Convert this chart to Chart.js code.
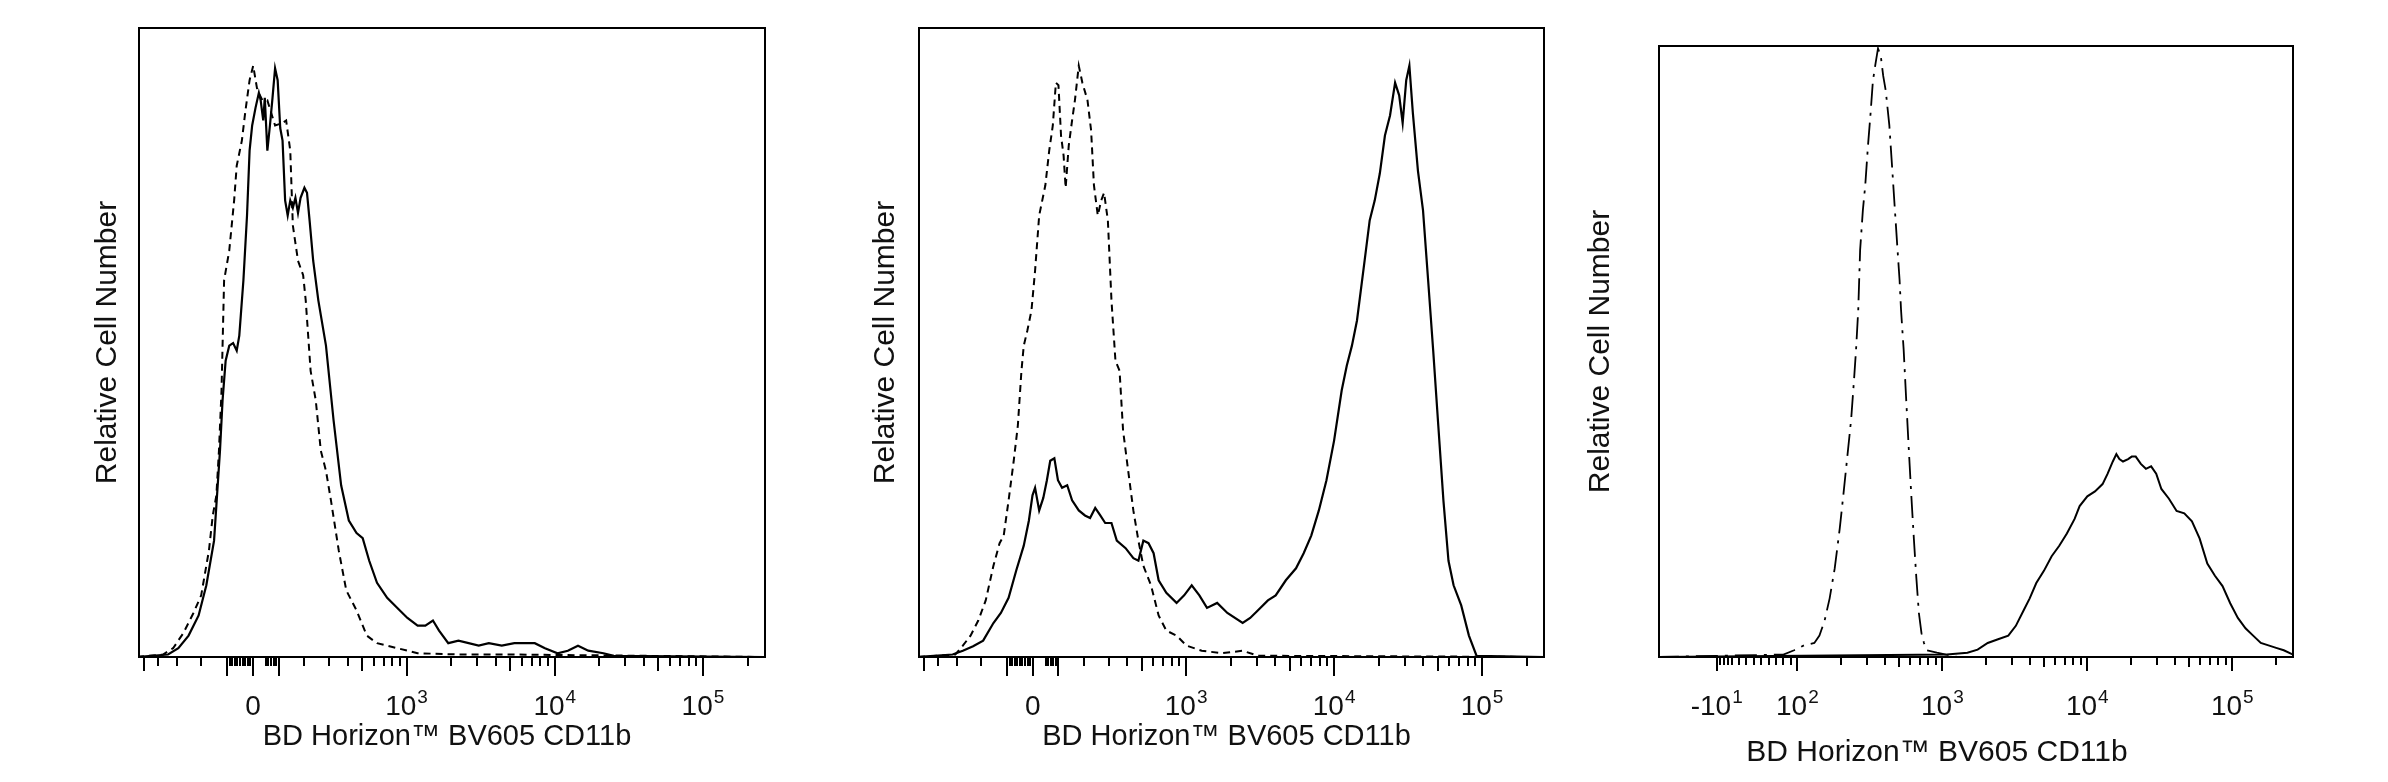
<!DOCTYPE html>
<html lang="en">
<head>
<meta charset="UTF-8">
<title>BD Horizon BV605 CD11b histograms</title>
<script src="https://cdn.jsdelivr.net/npm/chart.js"></script>
<style>
  body { margin: 0; background: #fff; width: 2388px; height: 782px; position: relative; overflow: hidden; }
  canvas { position: absolute; top: 0; }
</style>
</head>
<body>
<canvas id="panel1" width="795" height="782" style="left:0px"></canvas>
<canvas id="panel2" width="790" height="782" style="left:795px"></canvas>
<canvas id="panel3" width="808" height="782" style="left:1580px"></canvas>
<script>
// ---- data (x = fluorescence intensity, y = % of max frame height) ----
const xTitle = 'BD Horizon™ BV605 CD11b';
const yTitle = 'Relative Cell Number';

// panel 1
const p1SolidX = [-557, -344, -293, -250, -211, -181, -151, -142, -128, -118,
  -106, -92, -77, -63, -53, -37, -23, -13, -3, 10,
  23, 30, 40, 46, 56, 66, 76, 86, 96, 106,
  115, 125, 135, 145, 155, 165, 175, 185, 200, 210,
  220, 234, 254, 286, 322, 362, 408, 460, 506, 560,
  632, 740, 867, 1014, 1188, 1339, 1507, 1657, 1912, 2240,
  2625, 3070, 3590, 4390, 5340, 7330, 8590, 10440, 12260, 14350,
  16830, 21300, 25040, 262144];
const p1SolidY = [0, 0.4, 1.4, 3.4, 6.6, 11.4, 18.5, 24.1, 32.8, 40.8,
  47.1, 49.5, 49.9, 48.7, 51.1, 59.9, 70.2, 80.5, 84.5, 87.3,
  89.7, 88.5, 85.3, 88.9, 80.5, 84.5, 88.9, 93.6, 91.7, 84.1,
  82.1, 72.6, 70.2, 72.6, 71.4, 73.0, 70.6, 73.0, 74.6, 73.8,
  69.4, 63.0, 56.7, 49.5, 37.6, 27.3, 21.7, 19.7, 18.9, 15.3,
  11.8, 9.4, 7.8, 6.2, 5.0, 5.0, 5.8, 4.2, 2.2, 2.6,
  2.2, 1.8, 2.2, 1.8, 2.2, 2.2, 1.4, 0.6, 1.0, 1.8,
  1.0, 0.6, 0.2, 0];
const p1DashX = [-557, -372, -318, -271, -231, -201, -171, -156, -142, -132,
  -122, -112, -92, -73, -63, -43, -29, -13, 1, 17,
  37, 56, 86, 115, 129, 145, 155, 175, 195, 205,
  224, 244, 264, 286, 309, 349, 392, 460, 539, 632,
  867, 1188, 2240, 4940, 262144];
const p1DashY = [0, 0.4, 1.4, 3.8, 7.0, 9.8, 16.9, 22.5, 25.7, 32.8,
  42.4, 59.9, 64.6, 72.6, 78.1, 82.1, 86.9, 91.7, 94.0, 90.1,
  88.5, 88.5, 84.5, 84.9, 85.3, 80.5, 68.6, 63.0, 60.7, 56.7,
  45.5, 40.8, 32.8, 29.6, 24.9, 16.9, 10.6, 7.4, 3.4, 2.2,
  1.4, 0.6, 0.4, 0.4, 0];

// panel 2
const p2SolidX = [-547, -320, -273, -232, -193, -153, -124, -94, -64, -35,
  -15, -1, 9, 25, 41, 55, 68, 84, 98, 114,
  134, 153, 179, 203, 223, 243, 263, 284, 313, 340,
  390, 440, 476, 514, 557, 603, 652, 735, 862, 970,
  1091, 1229, 1384, 1621, 1900, 2410, 2710, 3050, 3570, 4030,
  4720, 5530, 6230, 7010, 7890, 8880, 10000, 11260, 12180, 13200,
  14280, 16080, 17400, 18830, 20380, 22060, 23880, 25840, 27530, 29060,
  30730, 32270, 34060, 36870, 39900, 43200, 46750, 50600, 54800, 59300,
  64200, 72300, 81500, 91700, 262144];
const p2SolidY = [0, 0.4, 1.0, 1.7, 2.6, 5.4, 7.0, 9.4, 13.8, 17.7,
  21.7, 25.7, 26.9, 23.3, 25.3, 28.1, 31.2, 31.6, 28.1, 26.9,
  27.3, 24.9, 23.3, 22.5, 22.1, 23.7, 22.5, 21.3, 21.3, 18.5,
  17.3, 15.7, 15.3, 18.5, 18.1, 16.5, 12.2, 10.2, 8.6, 9.8,
  11.4, 9.8, 7.8, 8.6, 7.0, 5.4, 6.2, 7.4, 9.0, 9.8,
  12.2, 14.1, 16.5, 19.3, 23.3, 28.1, 34.4, 42.4, 46.3, 49.5,
  53.5, 63.0, 69.4, 72.6, 76.9, 82.9, 86.1, 91.3, 89.3, 84.9,
  91.7, 94.0, 86.5, 77.3, 71.0, 59.9, 48.7, 36.8, 24.9, 15.3,
  11.4, 8.2, 3.4, 0.2, 0];
const p2DashX = [-547, -307, -273, -242, -212, -183, -153, -129, -113, -94,
  -74, -58, -44, -35, -21, -5, 9, 25, 49, 64,
  78, 90, 100, 110, 120, 128, 140, 153, 164, 179,
  193, 213, 227, 238, 253, 267, 279, 296, 313, 333,
  355, 375, 406, 440, 476, 514, 579, 652, 735, 862,
  1007, 1275, 1755, 2410, 3050, 262144];
const p2DashY = [0, 0.4, 1.8, 3.4, 5.8, 9.0, 14.5, 18.1, 19.3, 24.9,
  31.2, 36.8, 45.5, 49.5, 51.9, 55.1, 61.4, 70.2, 75.0, 80.5,
  84.5, 91.3, 90.9, 82.9, 79.7, 74.6, 81.3, 85.3, 88.5, 94.0,
  91.3, 88.5, 83.7, 75.0, 70.2, 72.6, 73.8, 69.4, 56.7, 47.1,
  45.5, 36.0, 29.6, 23.3, 18.5, 14.5, 11.4, 6.6, 4.2, 3.4,
  1.8, 1.0, 0.6, 1.0, 0.2, 0];

// panel 3
const p3DashDotX = [-91, 80, 95, 111, 131, 142, 154, 167, 181, 196,
  208, 222, 235, 246, 254, 263, 271, 283, 294, 307,
  319, 332, 346, 360, 376, 391, 407, 431, 452, 471,
  491, 507, 519, 541, 563, 587, 610, 636, 662, 689,
  718, 747, 779, 916, 1268, 262144];
const p3DashDotY = [0, 0.4, 1.1, 1.9, 2.3, 3.5, 5.9, 9.6, 14.5, 21.0,
  26.7, 33.2, 38.9, 45.4, 50.3, 56.8, 66.6, 73.1, 77.2, 83.7,
  88.6, 94.3, 97.1, 99.6, 98.4, 95.1, 92.7, 87.0, 79.6, 73.1,
  66.6, 61.7, 56.8, 50.3, 42.2, 34.0, 26.7, 19.4, 12.9, 7.2,
  3.9, 2.3, 1.1, 0.7, 0, 0];
const p3SolidX = [-91, 1075, 1489, 1751, 2056, 2423, 2850, 3213, 3632, 4004,
  4446, 5017, 5675, 6404, 7227, 8170, 8850, 10000, 11290, 12740,
  13810, 14990, 15860, 16640, 17620, 19120, 20240, 21570, 23390, 25360,
  27540, 29860, 32410, 36560, 41280, 46640, 52660, 59460, 67230, 75870,
  85600, 96700, 109200, 123300, 139200, 157200, 177500, 200600, 226400, 255700,
  262144];
const p3SolidY = [0, 0.4, 0.7, 1.2, 2.3, 2.9, 3.5, 5.1, 7.6, 9.6,
  12.1, 14.1, 16.5, 18.2, 20.2, 22.6, 24.7, 26.3, 27.1, 28.3,
  30.0, 32.0, 33.2, 32.4, 32.0, 32.4, 32.8, 32.8, 31.6, 30.8,
  31.2, 30.0, 27.5, 25.9, 23.9, 23.5, 22.2, 19.4, 15.3, 13.3,
  11.6, 8.8, 6.4, 4.7, 3.5, 2.3, 1.9, 1.5, 1.1, 0.5,
  0.4];

// x-axis ticks, panels 1 and 2
const ticksAMajor = [0, 1000, 10000, 100000];
const ticksALabels = ['0', '10^3', '10^4', '10^5'];
const ticksALong = [-100, 100];
const ticksAMid = [-500, 500, 5000, 50000];
const ticksAMinor = [-400, -300, -200, -90, -80, -70, -60, -50, -40, -30, -20, -10,
  50, 60, 70, 80, 90, 200, 300, 400, 600, 700, 800, 900,
  2000, 3000, 4000, 6000, 7000, 8000, 9000,
  20000, 30000, 40000, 60000, 70000, 80000, 90000, 200000];

// x-axis ticks, panel 3
const ticksBMajor = [-10, 100, 1000, 10000, 100000];
const ticksBLabels = ['-10^1', '10^2', '10^3', '10^4', '10^5'];
const ticksBMid = [500, 5000, 50000];
const ticksBMinor = [-5, 0, 5, 10, 20, 30, 40, 50, 60, 70, 80, 90,
  200, 300, 400, 600, 700, 800, 900,
  2000, 3000, 4000, 6000, 7000, 8000, 9000,
  20000, 30000, 40000, 60000, 70000, 80000, 90000, 200000];

// ---- linear-near-zero / log-above scale (biexponential style axis) ----
class BiexScale extends Chart.LinearScale {
  static id = 'biex';
  static defaults = {};

  fwd(v) {
    const t = this.options.linThreshold;
    const a = Math.abs(v);
    return a <= t ? v / t : Math.sign(v) * (1 + Math.log(a / t));
  }
  inv(u) {
    const t = this.options.linThreshold;
    const a = Math.abs(u);
    return a <= 1 ? u * t : Math.sign(u) * t * Math.exp(a - 1);
  }
  buildTicks() {
    const o = this.options;
    const out = [];
    [['major', o.majorValues], ['long', o.longValues], ['mid', o.midValues], ['minor', o.minorValues]]
      .forEach(([kind, vals]) => (vals || []).forEach(v => out.push({ value: v, kind: kind })));
    return out.sort((a, b) => a.value - b.value);
  }
  configure() {
    super.configure();
    this._fStart = this.fwd(this.min);
    this._fRange = this.fwd(this.max) - this._fStart;
  }
  getPixelForValue(value) {
    if (value === null || value === undefined || isNaN(value)) return NaN;
    return this.getPixelForDecimal((this.fwd(value) - this._fStart) / this._fRange);
  }
  getValueForPixel(pixel) {
    return this.inv(this._fStart + this.getDecimalForPixel(pixel) * this._fRange);
  }
  // the axis title is not always centred under the frame
  drawTitle() {
    const shift = this.options.titleShift || 0;
    this.ctx.save();
    this.ctx.translate(shift, 0);
    super.drawTitle();
    this.ctx.restore();
  }
}
Chart.register(BiexScale);

Chart.defaults.font.family = '"Liberation Sans", Arial, sans-serif';
Chart.defaults.color = '#111';

// frame, tick marks and superscript tick labels
const frameTicks = {
  id: 'frameTicks',
  afterDraw(chart, args, opts) {
    const { ctx, chartArea: a } = chart;
    const xs = chart.scales.x;
    ctx.save();
    ctx.strokeStyle = '#000';
    ctx.lineWidth = 2;
    ctx.strokeRect(a.left, a.top, a.right - a.left, a.bottom - a.top);

    ctx.beginPath();
    xs.ticks.forEach(t => {
      const px = Math.round(xs.getPixelForValue(t.value));
      ctx.moveTo(px, a.bottom);
      ctx.lineTo(px, a.bottom + opts.lengths[t.kind]);
    });
    ctx.stroke();

    ctx.fillStyle = '#111';
    ctx.textAlign = 'left';
    ctx.textBaseline = 'alphabetic';
    const baseFont = '28px "Liberation Sans", Arial, sans-serif';
    const expFont = '19px "Liberation Sans", Arial, sans-serif';
    xs.ticks.forEach(t => {
      if (!t.label) return;
      const parts = String(t.label).split('^');
      const base = parts[0], exp = parts[1] || '';
      ctx.font = baseFont;
      const wb = ctx.measureText(base).width;
      ctx.font = expFont;
      const we = exp ? ctx.measureText(exp).width + 1 : 0;
      const px = xs.getPixelForValue(t.value);
      const x0 = px - (wb + we) / 2;
      const yb = a.bottom + opts.labelOffset;
      ctx.font = baseFont;
      ctx.fillText(base, x0, yb);
      if (exp) {
        ctx.font = expFont;
        ctx.fillText(exp, x0 + wb + 1, yb - 12);
      }
    });
    ctx.restore();
  }
};

function pts(xs, ys) {
  return xs.map((x, i) => ({ x: x, y: ys[i] }));
}

function line(xs, ys, dash, width) {
  return {
    data: pts(xs, ys),
    borderColor: '#000',
    borderWidth: width,
    borderDash: dash,
    pointRadius: 0,
    tension: 0,
    fill: false
  };
}

function makeChart(id, datasets, cfg) {
  const labelMap = {};
  cfg.major.forEach((v, i) => { labelMap[v] = cfg.labels[i]; });
  return new Chart(document.getElementById(id), {
    type: 'line',
    data: { datasets: datasets },
    plugins: [frameTicks],
    options: {
      responsive: false,
      animation: false,
      events: [],
      layout: { padding: cfg.padding },
      plugins: {
        legend: { display: false },
        tooltip: { enabled: false },
        frameTicks: { lengths: cfg.tickLengths, labelOffset: 58 }
      },
      scales: {
        x: {
          type: 'biex',
          min: cfg.min,
          max: 262144,
          linThreshold: cfg.linThreshold,
          majorValues: cfg.major,
          longValues: cfg.long,
          midValues: cfg.mid,
          minorValues: cfg.minor,
          titleShift: cfg.titleShift,
          grid: { display: false, drawTicks: false },
          border: { display: false },
          ticks: { display: false, callback: v => (v in labelMap ? labelMap[v] : '') },
          title: {
            display: true,
            text: xTitle,
            color: '#111',
            font: { size: cfg.xTitleSize },
            padding: cfg.xTitlePad
          }
        },
        y: {
          type: 'linear',
          min: 0,
          max: 100,
          grid: { display: false, drawTicks: false },
          border: { display: false },
          ticks: { display: false },
          title: {
            display: true,
            text: yTitle,
            color: '#111',
            font: { size: 30 },
            padding: cfg.yTitlePad
          }
        }
      }
    }
  });
}

const lengthsA = { major: 19, long: 19, mid: 14, minor: 9 };
const lengthsB = { major: 14, long: 14, mid: 10, minor: 8 };

makeChart('panel1', [
  line(p1SolidX, p1SolidY, [], 2.2),
  line(p1DashX, p1DashY, [7, 5], 2)
], {
  min: -540, linThreshold: 250,
  major: ticksAMajor, labels: ticksALabels, long: ticksALong, mid: ticksAMid, minor: ticksAMinor,
  tickLengths: lengthsA, titleShift: -5, xTitleSize: 29,
  padding: { left: 90, right: 30, top: 28, bottom: 0 },
  xTitlePad: { top: 62.6, bottom: 27.6 },
  yTitlePad: { top: 0, bottom: 13 }
});

makeChart('panel2', [
  line(p2SolidX, p2SolidY, [], 2.2),
  line(p2DashX, p2DashY, [7, 5], 2)
], {
  min: -540, linThreshold: 250,
  major: ticksAMajor, labels: ticksALabels, long: ticksALong, mid: ticksAMid, minor: ticksAMinor,
  tickLengths: lengthsA, titleShift: -5, xTitleSize: 29,
  padding: { left: 73, right: 41, top: 28, bottom: 0 },
  xTitlePad: { top: 62.6, bottom: 27.6 },
  yTitlePad: { top: 0, bottom: 15 }
});

makeChart('panel3', [
  line(p3DashDotX, p3DashDotY, [22, 7, 3, 7], 1.8),
  line(p3SolidX, p3SolidY, [], 2)
], {
  min: -88, linThreshold: 85,
  major: ticksBMajor, labels: ticksBLabels, long: [], mid: ticksBMid, minor: ticksBMinor,
  tickLengths: lengthsB, titleShift: -39, xTitleSize: 30,
  padding: { left: 3, right: 95, top: 46, bottom: 0 },
  xTitlePad: { top: 78, bottom: 11 },
  yTitlePad: { top: 0, bottom: 40 }
});
</script>
</body>
</html>
